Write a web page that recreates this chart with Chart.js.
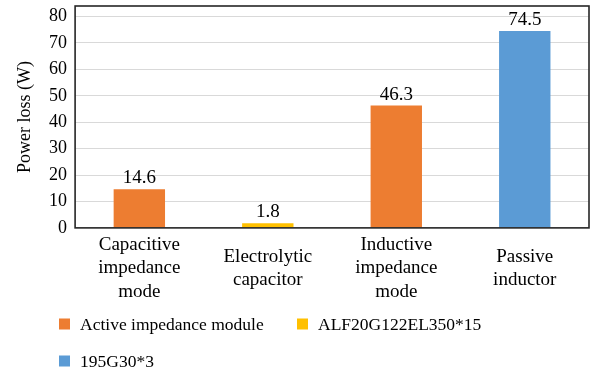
<!DOCTYPE html>
<html>
<head>
<meta charset="utf-8">
<script src="https://cdn.jsdelivr.net/npm/chart.js@4/dist/chart.umd.min.js"></script>
<style>
  html, body { margin: 0; padding: 0; background: #ffffff; }
  #wrap { width: 591px; height: 371px; position: relative; }
</style>
</head>
<body>
<div id="wrap"><canvas id="chart" width="591" height="371"></canvas></div>
<script>
// Categories (multi-line axis labels)
const categories = [
  ['Capacitive', 'impedance', 'mode'],
  ['Electrolytic', 'capacitor'],
  ['Inductive', 'impedance', 'mode'],
  ['Passive', 'inductor']
];

// Series: power loss in W per category (null = not present in that category)
const seriesNames = ['Active impedance module', 'ALF20G122EL350*15', '195G30*3'];
const activeModule = [14.6, null, 46.3, null];
const electrolytic = [null, 1.8, null, null];
const passiveCore = [null, null, null, 74.5];

const yTicks = [0, 10, 20, 30, 40, 50, 60, 70, 80];
const yTitle = 'Power loss (W)';

const colors = ['#ED7D31', '#FFC000', '#5B9BD5'];
const serif = "'Liberation Serif', 'Times New Roman', serif";

Chart.defaults.font.family = serif;
Chart.defaults.color = '#000000';

// Frame around the plotting area
const framePlugin = {
  id: 'frame',
  afterDraw(chart) {
    const { ctx, chartArea: a } = chart;
    ctx.save();
    ctx.strokeStyle = '#262626';
    ctx.lineWidth = 1.6;
    ctx.strokeRect(a.left, a.top, a.right - a.left, a.bottom - a.top);
    ctx.restore();
  }
};

// Value labels above each bar
const valueLabels = {
  id: 'valueLabels',
  afterDatasetsDraw(chart) {
    const { ctx } = chart;
    ctx.save();
    ctx.font = '19px ' + serif;
    ctx.fillStyle = '#000000';
    ctx.textAlign = 'center';
    ctx.textBaseline = 'alphabetic';
    chart.data.datasets.forEach((ds, di) => {
      const meta = chart.getDatasetMeta(di);
      meta.data.forEach((bar, i) => {
        const v = ds.data[i];
        if (v === null || v === undefined) return;
        ctx.fillText(String(v), bar.x, bar.y - 6);
      });
    });
    ctx.restore();
  }
};

// Legend laid out in two rows beneath the axis labels
const legendRows = {
  id: 'legendRows',
  afterDraw(chart) {
    const { ctx } = chart;
    const spots = [
      { x: 59, y: 324 },
      { x: 297, y: 324 },
      { x: 59, y: 361 }
    ];
    ctx.save();
    ctx.font = '17.5px ' + serif;
    ctx.textBaseline = 'middle';
    ctx.textAlign = 'left';
    chart.data.datasets.forEach((ds, i) => {
      const p = spots[i];
      ctx.fillStyle = ds.backgroundColor;
      ctx.fillRect(p.x, p.y - 5.5, 11, 11);
      ctx.fillStyle = '#000000';
      ctx.fillText(ds.label, p.x + 21, p.y + 1);
    });
    ctx.restore();
  }
};

const datasets = [activeModule, electrolytic, passiveCore].map((vals, i) => ({
  label: seriesNames[i],
  data: vals,
  backgroundColor: colors[i],
  borderWidth: 0
}));

new Chart(document.getElementById('chart'), {
  type: 'bar',
  data: { labels: categories, datasets },
  options: {
    responsive: false,
    animation: false,
    devicePixelRatio: 1,
    skipNull: true,
    datasets: { bar: { categoryPercentage: 1, barPercentage: 0.4 } },
    layout: { padding: { left: 14, right: 2, top: 6, bottom: 39 } },
    plugins: {
      legend: { display: false },
      tooltip: { enabled: false }
    },
    scales: {
      x: {
        grid: { display: false, drawTicks: false },
        border: { display: false },
        ticks: {
          padding: 17,
          color: '#000000',
          crossAlign: 'center',
          maxRotation: 0,
          autoSkip: false,
          font: { family: serif, size: 19, lineHeight: 1.23 }
        }
      },
      y: {
        min: 0,
        max: 84,
        afterBuildTicks(scale) {
          scale.ticks = yTicks.map(v => ({ value: v }));
        },
        afterFit(scale) {
          // the top tick sits well below the frame, so no extra room is needed above it
          scale.paddingTop = 0;
        },
        grid: { color: '#D9D9D9', lineWidth: 1, drawTicks: false },
        border: { display: false },
        ticks: {
          padding: 8,
          color: '#000000',
          font: { family: serif, size: 18 }
        },
        title: {
          display: true,
          text: yTitle,
          color: '#000000',
          font: { family: serif, size: 18, lineHeight: 1.2 },
          padding: { top: 0, bottom: 5.5 }
        }
      }
    }
  },
  plugins: [framePlugin, valueLabels, legendRows]
});
</script>
</body>
</html>
